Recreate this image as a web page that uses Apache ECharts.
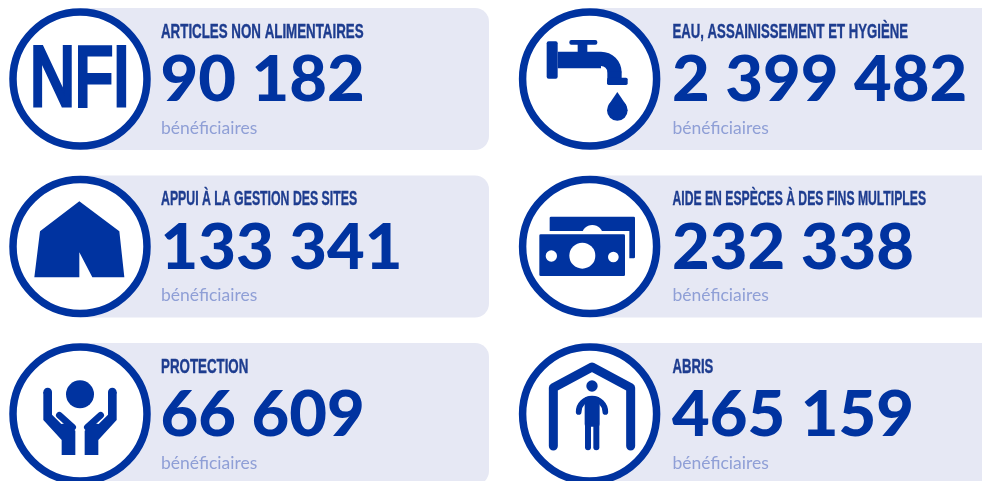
<!DOCTYPE html>
<html>
<head>
<meta charset="utf-8">
<style>
html,body{margin:0;padding:0;background:#fff;}
#main{width:982px;height:481px;}
</style>
<script src="https://cdn.jsdelivr.net/npm/echarts@6/dist/echarts.min.js"></script>
</head>
<body>
<div id="main"></div>
<script>
var sectors = ['ARTICLES NON ALIMENTAIRES', 'EAU, ASSAINISSEMENT ET HYGIÈNE', 'APPUI À LA GESTION DES SITES',
  'AIDE EN ESPÈCES À DES FINS MULTIPLES', 'PROTECTION', 'ABRIS'];
var values = [90182, 2399482, 133341, 232338, 66609, 465159];
var unit = 'bénéficiaires';

var blue = '#0033a0';
var titleBlue = '#1d3c8f';
var panelBg = '#e6e8f4';
var unitBlue = '#8f9fd6';
var colX = [80, 589.6];
var rowY = [79, 246.5, 414];
// no condensed face installed, so each title is squeezed to its width on the poster
var titleSqueeze = [0.65, 0.642, 0.6, 0.594, 0.65, 0.64];

// thousands separated by a space, like the poster
function fmt(v) {
  return String(v).replace(/\B(?=(\d{3})+$)/g, ' ');
}

function poly(points) {
  return {type: 'polygon', shape: {points: points}, style: {fill: blue}};
}
function line(points, w) {
  return {type: 'polyline', shape: {points: points},
    style: {stroke: blue, fill: null, lineWidth: w, lineCap: 'round', lineJoin: 'round'}};
}
function disc(cx, cy, r, color) {
  return {type: 'circle', shape: {cx: cx, cy: cy, r: r}, style: {fill: color || blue}};
}
function box(x, y, w, h, r, color) {
  return {type: 'rect', shape: {x: x, y: y, width: w, height: h, r: r}, style: {fill: color || blue}};
}

// icons are drawn in a 3x space and the group scales them back down
var icons = [
  [{type: 'text', x: 240, y: 245, scaleX: 0.74, style: {text: 'NFI', fill: blue, stroke: blue, lineWidth: 15,
    font: '252px "Liberation Sans"', align: 'center', verticalAlign: 'middle', lineJoin: 'round'}}],
  [
    box(110, 124, 33, 112, 6),
    box(178, 120, 84, 14, 6),
    box(203, 130, 29, 30, 0),
    box(143, 155, 130, 50, 0),
    {type: 'sector', shape: {cx: 273, cy: 217, r0: 19, r: 62, startAngle: -Math.PI / 2, endAngle: 0, clockwise: true}, style: {fill: blue}},
    box(292, 215, 43, 22, 0),
    box(291, 233, 62, 22, 5),
    disc(322, 331, 31),
    poly([[322, 276], [295, 316], [349, 316]])
  ],
  [poly([[238, 94], [358, 184], [373, 322], [277, 322], [238, 247], [238, 322], [103, 322], [120, 184]])],
  [
    box(119, 140, 256, 125, 4),
    disc(247, 197, 32, '#fff'),
    box(78, 183, 280, 147, 0, '#fff'),
    box(88, 193, 257, 125, 4),
    disc(217, 257, 39, '#fff'),
    disc(124, 258, 17, '#fff'),
    disc(310, 261, 16, '#fff')
  ],
  [
    disc(240, 175, 42),
    poly([[130, 168], [156, 168], [156, 236], [184, 264], [200, 262], [226, 284], [226, 357], [185, 357], [185, 312], [130, 252]]),
    poly([[350, 168], [324, 168], [324, 236], [296, 264], [280, 262], [254, 284], [254, 357], [295, 357], [295, 312], [350, 252]]),
    disc(143, 168, 13), disc(337, 168, 13),
    line([[178, 238], [218, 274]], 20),
    line([[302, 238], [262, 274]], 20)
  ],
  [
    line([[130, 330], [130, 155], [246, 93], [362, 155], [362, 330]], 27),
    disc(246, 150, 17),
    {type: 'arc', shape: {cx: 246, cy: 228, r: 40, startAngle: Math.PI, endAngle: 0, clockwise: true},
      style: {stroke: blue, fill: null, lineWidth: 17, lineCap: 'round'}},
    box(224, 182, 45, 90, 8),
    line([[234, 270], [234, 334]], 18),
    line([[259, 270], [259, 334]], 18)
  ]
];
// where the 3x space starts on the page
var iconOrigin = [[0, 0], [510, 0], [0, 170], [510, 170], [0, 336], [510, 336]];

var elements = [];
sectors.forEach(function (name, i) {
  var col = i % 2, row = Math.floor(i / 2);
  var cx = colX[col], cy = rowY[row];
  var textX = col ? 672.5 : 161;
  // panel runs behind the ring and stops at the page edge on the right column
  elements.push({type: 'rect', shape: {x: cx, y: cy - 71, width: col ? 420 : 409, height: 142, r: [0, 14, 14, 0]},
    style: {fill: panelBg}});
  elements.push({type: 'circle', shape: {cx: cx, cy: cy, r: 67}, style: {fill: '#fff', stroke: blue, lineWidth: 7.5}});
  elements.push({type: 'group', x: iconOrigin[i][0], y: iconOrigin[i][1], scaleX: 1 / 3, scaleY: 1 / 3, children: icons[i]});
  elements.push({type: 'text', x: textX, y: cy - 47, scaleX: titleSqueeze[i], style: {text: name, fill: titleBlue, stroke: titleBlue, lineWidth: 0.4,
    font: 'bold 20.5px "Liberation Sans"', align: 'left', verticalAlign: 'middle'}});
  elements.push({type: 'text', x: textX - 0.5, y: cy + 33, scaleX: 1.05, style: {text: fmt(values[i]), fill: blue,
    font: '900 62px Lato', align: 'left', verticalAlign: 'bottom'}});
  elements.push({type: 'text', x: textX, y: cy + 49, style: {text: unit, fill: unitBlue,
    font: '17.5px Lato', align: 'left', verticalAlign: 'middle'}});
});

var chart = echarts.init(document.getElementById('main'), null, {renderer: 'canvas'});
chart.setOption({animation: false, backgroundColor: '#fff', graphic: {elements: elements}});
</script>
</body>
</html>
